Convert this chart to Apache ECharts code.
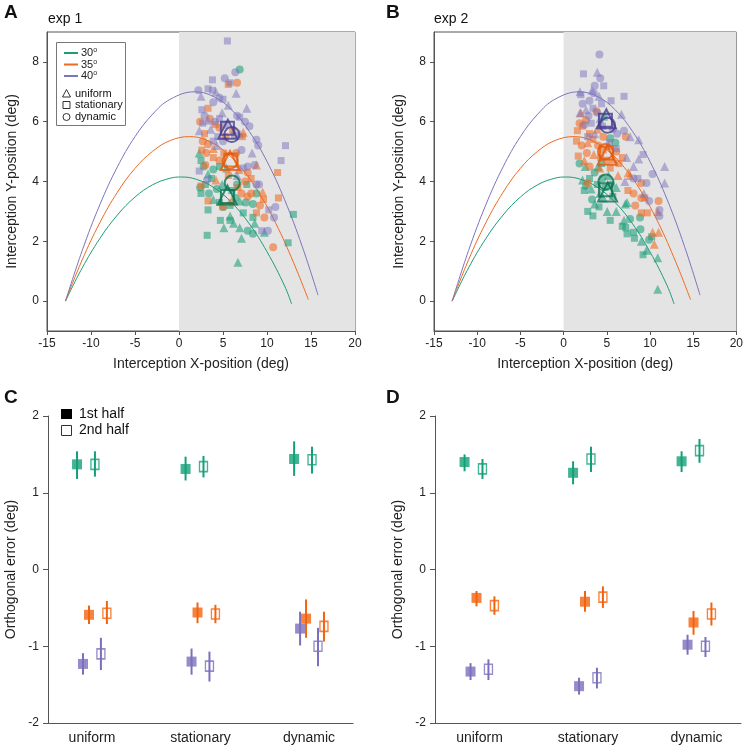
<!DOCTYPE html>
<html><head><meta charset="utf-8">
<script src="https://cdn.jsdelivr.net/npm/echarts@6/dist/echarts.min.js"></script>
<style>html,body{margin:0;padding:0;background:#fff}#c{width:746px;height:748px}</style>
</head><body><div id="c"></div>
<script>
// ---------- DATA ----------
// trajectory curves, x,y in deg
const traj30 = [[-12.9,0],[-11,1.11],[-9,2.09],[-7,2.88],[-5,3.48],[-3,3.89],[-1,4.11],[0.3,4.15],[2,4.07],[4,3.79],[6,3.29],[8,2.58],[10,1.65],[12,0.51],[12.8,-0.1]];
const traj35 = [[-12.9,0],[-11,1.38],[-9,2.62],[-7,3.64],[-5,4.44],[-3,5.01],[-1,5.37],[1.2,5.5],[3,5.4],[5,5.06],[7,4.48],[9,3.66],[11,2.6],[13,1.3],[14.7,0.05]];
const traj40 = [[-12.9,0],[-11,1.69],[-9,3.22],[-7,4.49],[-5,5.5],[-3,6.25],[-1,6.75],[1.8,7.0],[4,6.83],[6,6.39],[8,5.67],[10,4.67],[12,3.39],[14,1.83],[15.8,0.2]];

// exp 1 interception points [x, y, shape]  t=uniform s=stationary c=dynamic
const exp1_30 = [[6.9,7.75,'c'],[2.3,4.95,'t'],[2.5,4.7,'s'],[2.8,4.5,'c'],[3.3,4.25,'t'],[3.9,4.4,'c'],[4.6,4.5,'s'],[5.4,4.45,'t'],[2.4,3.8,'c'],[3.0,3.9,'s'],[3.4,3.6,'c'],[2.5,3.6,'s'],[3.9,3.4,'t'],[4.3,3.75,'c'],[4.6,3.3,'s'],[5.0,3.15,'c'],[5.8,3.2,'s'],[6.4,3.45,'c'],[6.9,3.35,'t'],[7.3,2.95,'s'],[7.6,3.3,'c'],[8.4,3.25,'c'],[8.4,2.8,'s'],[8.6,2.6,'t'],[3.3,3.05,'s'],[4.7,2.7,'s'],[5.1,2.45,'t'],[5.8,2.7,'s'],[5.8,2.85,'t'],[6.9,2.45,'t'],[7.8,2.35,'c'],[8.4,2.25,'c'],[7.1,2.1,'t'],[6.7,1.3,'t'],[3.2,2.2,'s'],[9.7,2.3,'t'],[13.0,2.9,'s'],[12.4,1.95,'s'],[8.8,3.6,'c'],[6.0,3.7,'s'],[3.7,4.1,'s'],[4.9,3.9,'t'],[6.6,3.9,'c'],[7.7,3.9,'s'],[6.2,2.6,'t']];
const exp1_35 = [[6.6,7.3,'c'],[5.6,7.25,'s'],[3.3,6.45,'s'],[2.4,6.0,'c'],[3.5,6.1,'c'],[4.1,5.9,'s'],[2.9,5.6,'s'],[2.7,5.35,'c'],[3.3,5.25,'c'],[4.6,5.8,'c'],[6.1,5.7,'s'],[7.3,5.65,'t'],[7.2,5.5,'s'],[5.3,5.5,'c'],[3.9,5.1,'t'],[2.6,5.05,'s'],[3.1,4.95,'c'],[3.9,4.8,'s'],[4.6,4.7,'c'],[5.1,4.95,'s'],[6.5,4.95,'c'],[3.0,4.55,'c'],[8.8,4.55,'t'],[7.8,4.3,'c'],[8.2,4.1,'s'],[7.5,4.0,'c'],[6.7,3.8,'s'],[7.1,3.6,'c'],[8.2,3.6,'c'],[9.5,3.65,'t'],[9.6,3.4,'s'],[9.2,3.2,'c'],[8.8,2.95,'s'],[9.7,2.8,'c'],[11.2,4.3,'s'],[11.3,3.45,'s'],[10.7,1.8,'c'],[4.2,4.05,'t'],[2.5,3.85,'s'],[3.3,3.35,'s'],[5.0,3.15,'s'],[6.0,3.3,'c'],[7.8,3.5,'c'],[5.6,4.2,'s'],[6.8,4.4,'t']];
const exp1_40 = [[5.5,8.7,'s'],[5.2,7.45,'c'],[6.4,7.65,'c'],[3.8,7.4,'s'],[5.8,7.3,'s'],[6.5,6.95,'t'],[2.2,7.05,'c'],[2.5,6.85,'t'],[3.3,7.1,'s'],[3.8,7.05,'s'],[4.2,7.0,'t'],[4.6,6.8,'c'],[3.9,6.65,'c'],[5.0,6.75,'s'],[5.6,6.55,'t'],[4.9,6.3,'t'],[7.7,6.45,'t'],[6.6,6.2,'c'],[6.9,6.15,'s'],[7.5,6.0,'c'],[8.0,5.85,'c'],[2.6,6.4,'s'],[2.9,6.2,'c'],[3.3,6.05,'t'],[2.7,5.95,'s'],[4.1,6.0,'c'],[4.6,6.1,'s'],[5.2,5.9,'c'],[3.6,5.75,'t'],[2.3,5.7,'t'],[4.4,5.5,'s'],[5.0,5.35,'c'],[3.9,5.35,'s'],[6.3,5.55,'s'],[6.9,5.6,'t'],[7.1,5.05,'c'],[8.3,4.95,'t'],[8.8,5.4,'c'],[9.0,5.2,'c'],[12.1,5.2,'s'],[11.6,4.7,'s'],[7.3,4.45,'s'],[7.8,4.5,'c'],[8.6,4.55,'c'],[2.3,4.35,'s'],[6.6,4.2,'t'],[8.8,3.9,'c'],[9.1,3.9,'c'],[10.2,3.05,'s'],[10.95,3.15,'c'],[10.8,2.8,'c'],[10.1,2.35,'c'],[9.4,2.35,'s'],[3.2,4.05,'c'],[4.3,5.2,'t']];
const exp1_mean30 = [[5.5,3.55,'t'],[5.5,3.5,'s'],[6.05,3.95,'c']];
const exp1_mean35 = [[5.8,4.7,'t'],[5.9,4.72,'s'],[5.8,4.68,'c']];
const exp1_mean40 = [[5.55,5.75,'t'],[5.5,5.78,'s'],[6.0,5.57,'c']];

// exp 2 interception points
const exp2_30 = [[1.85,4.6,'c'],[2.2,4.05,'t'],[2.6,3.85,'c'],[2.4,3.7,'s'],[3.0,4.1,'s'],[3.2,3.75,'t'],[3.6,4.3,'c'],[3.9,3.9,'s'],[4.2,3.6,'t'],[4.5,4.1,'c'],[4.0,4.5,'t'],[4.8,3.8,'s'],[5.2,4.2,'t'],[5.5,3.9,'c'],[5.7,3.5,'s'],[6.1,3.8,'t'],[3.3,3.4,'c'],[4.6,3.45,'t'],[3.6,3.25,'t'],[2.8,3.0,'s'],[3.4,2.85,'s'],[4.1,3.15,'s'],[5.05,3.0,'t'],[5.4,2.7,'s'],[6.1,3.0,'t'],[7.15,3.25,'t'],[7.35,3.3,'t'],[7.7,2.75,'c'],[7.0,2.7,'t'],[6.8,2.5,'s'],[7.2,2.45,'s'],[8.1,2.3,'s'],[7.35,2.25,'s'],[8.2,2.1,'s'],[9.0,2.0,'t'],[9.9,2.05,'c'],[10.2,2.15,'s'],[9.6,1.7,'t'],[10.9,1.45,'t'],[9.2,1.55,'s'],[10.9,0.4,'t'],[8.9,2.4,'c'],[8.85,2.8,'c'],[5.4,5.45,'c'],[4.7,6.15,'s'],[2.5,4.5,'t'],[4.4,4.6,'s'],[6.0,5.3,'c']];
const exp2_35 = [[1.85,5.95,'c'],[2.0,6.3,'t'],[2.6,6.05,'c'],[3.8,6.35,'c'],[1.6,5.7,'s'],[2.2,5.85,'s'],[3.0,5.6,'s'],[3.9,5.75,'t'],[4.6,5.5,'c'],[1.5,5.35,'s'],[2.1,5.2,'c'],[2.8,5.3,'t'],[3.4,5.4,'s'],[4.0,5.2,'c'],[4.6,5.05,'s'],[5.2,5.2,'t'],[6.1,5.0,'c'],[1.7,4.85,'s'],[2.7,4.95,'c'],[3.5,4.9,'t'],[4.3,4.8,'s'],[5.0,4.7,'c'],[5.8,4.75,'t'],[6.4,4.6,'s'],[3.0,4.5,'c'],[4.2,4.45,'t'],[5.4,4.45,'s'],[6.3,4.2,'t'],[7.5,4.3,'t'],[7.7,4.2,'t'],[9.0,3.95,'c'],[7.45,3.7,'s'],[8.1,3.6,'c'],[9.0,3.45,'c'],[9.4,3.45,'s'],[11.0,3.35,'c'],[9.0,2.95,'s'],[9.7,2.95,'s'],[8.3,3.2,'c'],[10.9,3.0,'t'],[10.3,2.3,'t'],[11.0,2.3,'t'],[10.5,1.9,'t'],[2.8,3.95,'c'],[6.8,4.8,'s'],[7.2,5.5,'c'],[2.4,4.7,'t']];
const exp2_40 = [[4.15,8.25,'c'],[3.9,7.65,'t'],[4.25,7.45,'c'],[2.3,7.6,'s'],[4.65,7.2,'s'],[3.6,7.2,'c'],[3.3,7.05,'t'],[7.0,6.85,'s'],[1.9,7.0,'t'],[2.0,6.9,'s'],[3.5,6.95,'c'],[4.1,6.85,'t'],[3.0,6.7,'c'],[2.2,6.6,'c'],[4.4,6.6,'s'],[5.5,6.7,'s'],[2.6,6.4,'t'],[3.4,6.45,'s'],[3.9,6.3,'c'],[1.9,6.3,'t'],[2.9,6.2,'c'],[4.2,6.1,'t'],[6.7,6.25,'t'],[3.2,5.95,'s'],[2.4,5.9,'c'],[4.5,5.85,'s'],[5.7,5.75,'c'],[3.6,5.6,'t'],[6.2,5.6,'c'],[7.0,5.7,'c'],[7.7,5.5,'t'],[8.7,5.4,'t'],[6.1,5.1,'s'],[7.3,4.8,'t'],[9.2,4.9,'s'],[8.7,4.75,'t'],[8.1,4.5,'t'],[7.1,4.0,'t'],[8.1,4.1,'c'],[8.6,4.1,'s'],[9.6,3.95,'c'],[9.3,3.6,'t'],[9.9,3.35,'c'],[10.3,4.25,'c'],[11.1,2.85,'c'],[11.1,3.05,'c'],[11.7,4.5,'t'],[11.7,3.95,'t'],[5.3,5.3,'s'],[2.8,5.5,'s']];
const exp2_mean30 = [[5.1,3.65,'t'],[4.85,3.72,'s'],[4.9,3.98,'c']];
const exp2_mean35 = [[5.05,4.88,'t'],[4.95,4.95,'s'],[4.85,5.0,'c']];
const exp2_mean40 = [[4.95,6.1,'t'],[4.85,6.05,'s'],[5.1,5.88,'c']];

// orthogonal error: per condition [mean, low, high] for uniform, stationary, dynamic
const conditions = ['uniform','stationary','dynamic'];
const C_30_1st = [[1.37,1.18,1.54],[1.31,1.16,1.47],[1.44,1.22,1.67]];
const C_30_2nd = [[1.37,1.21,1.54],[1.34,1.20,1.48],[1.43,1.25,1.60]];
const C_35_1st = [[-0.59,-0.71,-0.47],[-0.56,-0.70,-0.43],[-0.64,-0.89,-0.39]];
const C_35_2nd = [[-0.57,-0.71,-0.41],[-0.58,-0.70,-0.46],[-0.74,-0.94,-0.55]];
const C_40_1st = [[-1.23,-1.37,-1.09],[-1.20,-1.37,-1.03],[-0.77,-0.99,-0.55]];
const C_40_2nd = [[-1.10,-1.31,-0.89],[-1.26,-1.46,-1.07],[-1.00,-1.26,-0.76]];
const D_30_1st = [[1.40,1.28,1.50],[1.26,1.11,1.41],[1.41,1.27,1.54]];
const D_30_2nd = [[1.31,1.18,1.44],[1.44,1.27,1.60],[1.55,1.39,1.70]];
const D_35_1st = [[-0.37,-0.48,-0.28],[-0.42,-0.55,-0.28],[-0.69,-0.85,-0.54]];
const D_35_2nd = [[-0.47,-0.59,-0.35],[-0.36,-0.50,-0.22],[-0.58,-0.73,-0.43]];
const D_40_1st = [[-1.33,-1.44,-1.22],[-1.52,-1.63,-1.41],[-0.98,-1.11,-0.85]];
const D_40_2nd = [[-1.30,-1.44,-1.17],[-1.41,-1.55,-1.28],[-1.00,-1.14,-0.88]];

// ---------- STYLE ----------
const FONT = '"Liberation Sans", Arial, sans-serif';
const TXT = '#222';
const AX = '#555';
const COL = {g:'#1b9e77', o:'#ef6a1f', p:'#7d75bc'};
const PTS = {g:'rgba(27,158,119,0.72)', o:'rgba(240,104,32,0.72)', p:'rgba(125,117,190,0.65)'};
const MEAN = {g:'#0c7452', o:'#e25a0c', p:'#453c8e'};
const BOT = {g:'#13a078', o:'#f2630f', p:'#7a70bd'};
const SYM = {t:'triangle', s:'rect', c:'circle'};
const SIZE = {t:9, s:7, c:8};
const MSIZE = {t:19, s:13, c:15};

const grids = [
  {left:47, right:391, top:32, bottom:417, show:true, borderColor:AX, borderWidth:1},
  {left:434, right:5, top:32, bottom:417, show:true, borderColor:AX, borderWidth:1},
  {left:48, right:393, top:416, bottom:25},
  {left:435, right:5, top:416, bottom:25}
];

const xAxes = [], yAxes = [];
for (let i=0;i<2;i++){
  xAxes.push({gridIndex:i, type:'value', min:-15, max:20, interval:5,
    axisLine:{show:true, onZero:false, lineStyle:{color:AX}}, axisTick:{show:true, length:4, lineStyle:{color:AX}},
    splitLine:{show:false}, axisLabel:{color:TXT, fontFamily:FONT, fontSize:12, margin:7},
    name:'Interception X-position (deg)', nameLocation:'middle', nameGap:26,
    nameTextStyle:{color:TXT, fontFamily:FONT, fontSize:14}});
  yAxes.push({gridIndex:i, type:'value', min:-1, max:9,
    axisLine:{show:true, onZero:false, lineStyle:{color:AX}},
    axisTick:{show:true, length:4, lineStyle:{color:AX}, customValues:[0,2,4,6,8]},
    splitLine:{show:false},
    axisLabel:{color:TXT, fontFamily:FONT, fontSize:12, margin:8, customValues:[0,2,4,6,8]},
    name:'Interception Y-position (deg)', nameLocation:'middle', nameGap:28,
    nameTextStyle:{color:TXT, fontFamily:FONT, fontSize:14}});
}
const xr = [[0.595,3.405],[0.59,3.41]];
for (let i=0;i<2;i++){
  xAxes.push({gridIndex:2+i, type:'value', min:xr[i][0], max:xr[i][1],
    axisLine:{show:true, onZero:false, lineStyle:{color:AX}}, axisTick:{show:false}, splitLine:{show:false},
    axisLabel:{color:TXT, fontFamily:FONT, fontSize:14, margin:8, customValues:[1,2,3],
      formatter:v=>conditions[Math.round(v)-1]}});
  yAxes.push({gridIndex:2+i, type:'value', min:-2, max:2, interval:1,
    axisLine:{show:true, onZero:false, lineStyle:{color:AX}}, axisTick:{show:true, length:5, lineStyle:{color:AX}},
    splitLine:{show:false},
    axisLabel:{color:TXT, fontFamily:FONT, fontSize:12, margin:9},
    name:'Orthogonal error (deg)', nameLocation:'middle', nameGap:30,
    nameTextStyle:{color:TXT, fontFamily:FONT, fontSize:14}});
}

const series = [];
function topPanel(idx, pts, means){
  series.push({type:'line', xAxisIndex:idx, yAxisIndex:idx, data:[], silent:true, z:1,
    markArea:{silent:true, itemStyle:{color:'#e4e4e4'}, data:[[{xAxis:0, yAxis:-1},{xAxis:20, yAxis:9}]]}});
  [[traj30,'g'],[traj35,'o'],[traj40,'p']].forEach(([d,c])=>{
    series.push({type:'line', xAxisIndex:idx, yAxisIndex:idx, data:d, smooth:0.4, showSymbol:false, z:2,
      lineStyle:{color:COL[c], width:1}, silent:true});
  });
  [['g',pts[0]],['o',pts[1]],['p',pts[2]]].forEach(([c,arr])=>{
    ['s','t','c'].forEach(s=>{
      series.push({type:'scatter', xAxisIndex:idx, yAxisIndex:idx, z:3, silent:true,
        symbol:SYM[s], symbolSize:SIZE[s],
        data:arr.filter(p=>p[2]===s).map(p=>[p[0],p[1]]),
        itemStyle:{color:PTS[c]}});
    });
  });
  [['g',means[0]],['o',means[1]],['p',means[2]]].forEach(([c,arr])=>{
    arr.forEach(p=>{
      series.push({type:'scatter', xAxisIndex:idx, yAxisIndex:idx, z:4, silent:true,
        symbol:SYM[p[2]], symbolSize:MSIZE[p[2]], data:[[p[0],p[1]]],
        itemStyle:{color:'rgba(0,0,0,0)', borderColor:MEAN[c], borderWidth:2}});
    });
  });
}
topPanel(0,[exp1_30,exp1_35,exp1_40],[exp1_mean30,exp1_mean35,exp1_mean40]);
topPanel(1,[exp2_30,exp2_35,exp2_40],[exp2_mean30,exp2_mean35,exp2_mean40]);

const offsets = [-0.1375,-0.0825,-0.0275,0.0275,0.0825,0.1375];
function errRender(params, api){
  const a = api.coord([api.value(0), api.value(1)]);
  const b = api.coord([api.value(0), api.value(2)]);
  return {type:'line', shape:{x1:a[0], y1:a[1], x2:b[0], y2:b[1]},
    style:{stroke:api.visual('color'), lineWidth:2}};
}
function bottomPanel(idx, sets){
  sets.forEach(([arr,c,o,h])=>{
    const off = offsets[o + 3*h];
    series.push({type:'custom', xAxisIndex:idx, yAxisIndex:idx, z:2, silent:true,
      renderItem:errRender, itemStyle:{color:BOT[c]}, encode:{x:0, y:[1,2]},
      data:arr.map((v,i)=>[i+1+off, v[1], v[2]])});
    series.push({type:'scatter', xAxisIndex:idx, yAxisIndex:idx, z:3, silent:true,
      symbol:'rect', symbolSize: h===0 ? [10,10] : [8,10],
      data:arr.map((v,i)=>[i+1+off, v[0]]),
      itemStyle: h===0 ? {color:BOT[c]} : {color:'rgba(0,0,0,0)', borderColor:BOT[c], borderWidth:1.5}});
  });
}
bottomPanel(2,[[C_30_1st,'g',0,0],[C_40_1st,'p',1,0],[C_35_1st,'o',2,0],[C_30_2nd,'g',0,1],[C_40_2nd,'p',1,1],[C_35_2nd,'o',2,1]]);
bottomPanel(3,[[D_30_1st,'g',0,0],[D_40_1st,'p',1,0],[D_35_1st,'o',2,0],[D_30_2nd,'g',0,1],[D_40_2nd,'p',1,1],[D_35_2nd,'o',2,1]]);

// ---------- annotations ----------
const tstyle = (t,x,y,extra)=>Object.assign({type:'text', x:x, y:y, silent:true,
  style:Object.assign({text:t, fill:'#111', font:'14px '+FONT, textVerticalAlign:'middle'}, extra||{})});
const graphic = [
  tstyle('A',4,13,{font:'bold 19px '+FONT}),
  tstyle('exp 1',48,19,{font:'14px '+FONT}),
  tstyle('B',386,13,{font:'bold 19px '+FONT}),
  tstyle('exp 2',434,19,{font:'14px '+FONT}),
  tstyle('C',4,398,{font:'bold 19px '+FONT}),
  tstyle('D',386,398,{font:'bold 19px '+FONT}),
  {type:'rect', silent:true, shape:{x:56.5, y:42.5, width:69, height:83},
    style:{fill:'#fff', stroke:'#777', lineWidth:1}, z:50},
  {type:'line', silent:true, shape:{x1:64, y1:53, x2:78, y2:53}, style:{stroke:COL.g, lineWidth:2}, z:51},
  {type:'line', silent:true, shape:{x1:64, y1:64.5, x2:78, y2:64.5}, style:{stroke:COL.o, lineWidth:2}, z:51},
  {type:'line', silent:true, shape:{x1:64, y1:76, x2:78, y2:76}, style:{stroke:COL.p, lineWidth:2}, z:51},
  ...[['30',53],['35',64.5],['40',76]].map(([t,y])=>({type:'text', x:81, y:y, silent:true, z:51,
    style:{text:'{n|'+t+'}{s|o}', textVerticalAlign:'middle', fill:'#222',
      rich:{n:{fontSize:11, fontFamily:FONT, lineHeight:12, fill:'#222'}, s:{fontSize:7, fontFamily:FONT, lineHeight:12, verticalAlign:'top', fill:'#222', padding:[0,0,5,0]}}}})),
  {type:'polygon', silent:true, z:51, shape:{points:[[62.5,97],[70.5,97],[66.5,89.5]]}, style:{fill:'none', stroke:'#333', lineWidth:1}},
  {type:'rect', silent:true, z:51, shape:{x:63, y:101.5, width:7, height:7}, style:{fill:'none', stroke:'#333', lineWidth:1}},
  {type:'circle', silent:true, z:51, shape:{cx:66.5, cy:117, r:3.5}, style:{fill:'none', stroke:'#333', lineWidth:1}},
  Object.assign(tstyle('uniform',75,93.5,{font:'11px '+FONT}),{z:51}),
  Object.assign(tstyle('stationary',75,105,{font:'11px '+FONT}),{z:51}),
  Object.assign(tstyle('dynamic',75,116.5,{font:'11px '+FONT}),{z:51}),
  {type:'rect', silent:true, shape:{x:61, y:409, width:11, height:10}, style:{fill:'#000'}},
  {type:'rect', silent:true, shape:{x:61.5, y:425.5, width:10, height:10}, style:{fill:'none', stroke:'#333', lineWidth:1}},
  tstyle('1st half',79,414),
  tstyle('2nd half',79,430.5)
];

const chart = echarts.init(document.getElementById('c'), null, {renderer:'canvas'});
chart.setOption({
  animation:false, backgroundColor:'#fff',
  textStyle:{fontFamily:FONT},
  grid:grids, xAxis:xAxes, yAxis:yAxes, series:series, graphic:graphic
});
</script></body></html>
